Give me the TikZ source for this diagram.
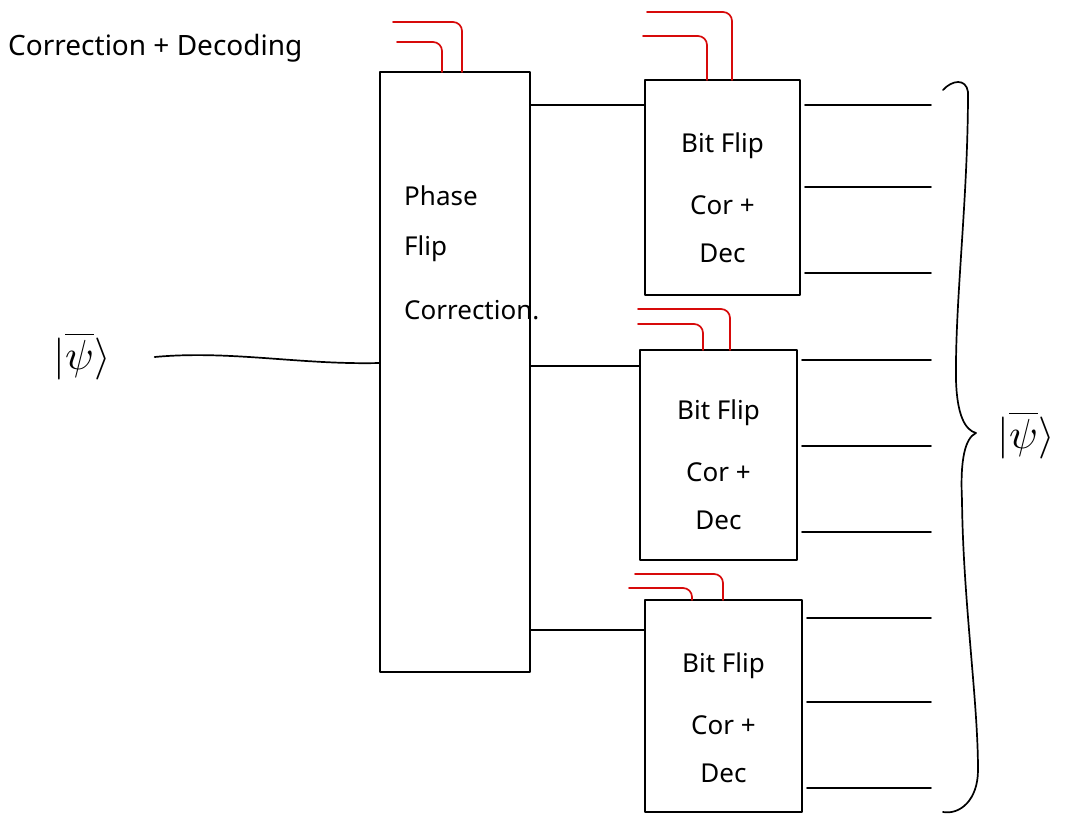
\documentclass[tikz,border=0pt]{standalone}
\usepackage{fontspec}
\setmainfont{Noto Sans}
\definecolor{wirered}{RGB}{215,10,10}
\tikzset{
  hand/.style={line width=1.7pt, line cap=round, line join=round, black},
  box/.style={hand, draw, rectangle, inner sep=0pt, outer sep=0pt},
  wire/.style={line width=1.7pt, line cap=round, wirered, rounded corners=9pt},
  lbl/.style={inner sep=0pt, align=center, font=\fontsize{26}{48}\selectfont},
  ket/.style={inner sep=0pt}
}
\newcommand{\ketpsi}{\scalebox{4.2}{$|\overline{\psi}\rangle$}}
\begin{document}
\begin{tikzpicture}[x=1pt,y=-1pt]
\useasboundingbox (0,0) rectangle (1072,818);

% title
\node[lbl, anchor=west, font=\fontsize{28}{34}\selectfont] (title) at (8,48) {Correction + Decoding};

% phase flip box
\node[box, minimum width=150pt, minimum height=600pt] (phase) at (455,372) {};
\node[lbl, anchor=north west, align=left, font=\fontsize{26}{50}\selectfont] (phasetxt) at (404,186) {Phase\\Flip\\[14pt]Correction.};

% bit flip boxes
\node[box, minimum width=155pt, minimum height=215pt] (bf1) at (722.5,187.5) {};
\node[box, minimum width=157pt, minimum height=210pt] (bf2) at (718.5,455) {};
\node[box, minimum width=157pt, minimum height=212pt] (bf3) at (723.5,706) {};
\node[lbl] (bf1txt) at ([yshift=-10pt]bf1.center) {Bit Flip\\[14pt]Cor +\\Dec};
\node[lbl] (bf2txt) at ([yshift=-10pt]bf2.center) {Bit Flip\\[14pt]Cor +\\Dec};
\node[lbl] (bf3txt) at ([yshift=-12pt]bf3.center) {Bit Flip\\[14pt]Cor +\\Dec};

% input state
\node[ket] (psiin) at (82,356) {\ketpsi};
\coordinate (pin) at (380,363);
\draw[hand] ([xshift=44pt,yshift=-1pt]psiin.east) .. controls (230,350) and (300,365) .. (pin -| phase.west);

% bit flip -> phase flip connectors
\coordinate (c1) at (0,105);
\coordinate (c2) at (0,366);
\coordinate (c3) at (0,630);
\draw[hand] (c1 -| bf1.west) -- (c1 -| phase.east);
\draw[hand] (c2 -| bf2.west) -- (c2 -| phase.east);
\draw[hand] (c3 -| bf3.west) -- (c3 -| phase.east);

% output qubit lines
\foreach \n/\b/\y in {o11/bf1/105, o12/bf1/187, o13/bf1/273,
                      o21/bf2/360, o22/bf2/446, o23/bf2/532,
                      o31/bf3/618, o32/bf3/702, o33/bf3/788}{
  \coordinate (\n) at (931,\y);
  \draw[hand] (\n -| \b.east) ++(5,0) -- (\n);
}

% red ancilla wires
\coordinate (ra1) at (393,22);  \coordinate (ra1e) at (462,0);
\coordinate (ra2) at (397,42);  \coordinate (ra2e) at (442,0);
\coordinate (rb1) at (647,12);  \coordinate (rb1e) at (732,0);
\coordinate (rb2) at (643,36);  \coordinate (rb2e) at (707,0);
\coordinate (rc1) at (638,309); \coordinate (rc1e) at (730,0);
\coordinate (rc2) at (638,324); \coordinate (rc2e) at (703,0);
\coordinate (rd1) at (635,574); \coordinate (rd1e) at (723,0);
\coordinate (rd2) at (629,588); \coordinate (rd2e) at (692,0);
\draw[wire] (ra1) -| (ra1e |- phase.north);
\draw[wire] (ra2) -| (ra2e |- phase.north);
\draw[wire] (rb1) -| (rb1e |- bf1.north);
\draw[wire] (rb2) -| (rb2e |- bf1.north);
\draw[wire] (rc1) -| (rc1e |- bf2.north);
\draw[wire] (rc2) -| (rc2e |- bf2.north);
\draw[wire] (rd1) -| (rd1e |- bf3.north);
\draw[wire] (rd2) -| (rd2e |- bf3.north);

% brace
\coordinate (btop) at (943,90);
\coordinate (btip) at (976,433);
\coordinate (bbot) at (943,812);
\draw[hand] (btop) .. controls (952,80) and (966,78) .. (968,92)
  .. controls (968,200) and (955,300) .. (956,380)
  .. controls (957,415) and (965,430) .. (btip)
  .. controls (965,438) and (960,460) .. (962,500)
  .. controls (963,600) and (978,700) .. (978,770)
  .. controls (978,800) and (960,815) .. (bbot);

% output state
\node[ket] (psiout) at (1026,435) {\ketpsi};
\end{tikzpicture}
\end{document}
